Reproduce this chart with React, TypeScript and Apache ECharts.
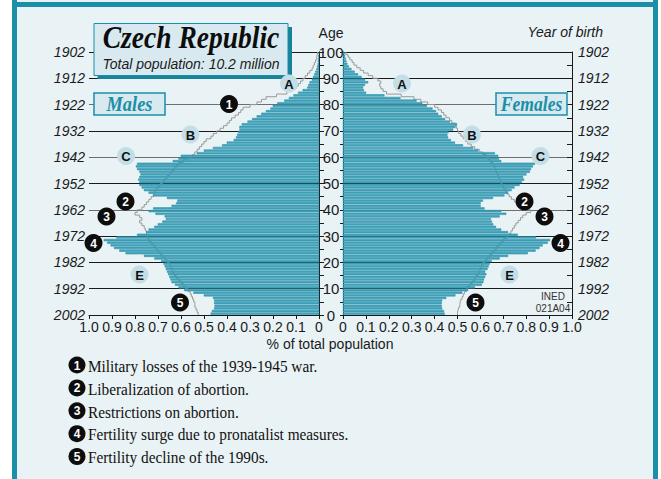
import React, { useEffect, useRef } from "react";
import * as echarts from "echarts";

// ---- data (index = age in completed years, 0..99), % of total population ----
const MALES = [
  0.47, 0.465, 0.455, 0.453, 0.455, 0.455, 0.46, 0.5, 0.545, 0.585,
  0.61, 0.625, 0.64, 0.645, 0.65, 0.655, 0.66, 0.665, 0.67, 0.675,
  0.685, 0.715, 0.76, 0.84, 0.867, 0.89, 0.905, 0.92, 0.935, 0.88,
  0.79, 0.75, 0.74, 0.715, 0.7, 0.68, 0.665, 0.67, 0.71, 0.74,
  0.72, 0.64, 0.62, 0.615, 0.66, 0.72, 0.74, 0.76, 0.77, 0.78,
  0.78, 0.785, 0.78, 0.775, 0.78, 0.79, 0.795, 0.79, 0.635, 0.61,
  0.6, 0.53, 0.5, 0.46, 0.42, 0.4, 0.37, 0.36, 0.355, 0.35,
  0.345, 0.345, 0.335, 0.31, 0.29, 0.27, 0.25, 0.23, 0.21, 0.2,
  0.18, 0.15, 0.13, 0.11, 0.09, 0.07, 0.05, 0.045, 0.04, 0.03,
  0.025, 0.02, 0.015, 0.01, 0.008, 0.005, 0.004, 0.003, 0.002, 0.001,
];
const FEMALES = [
  0.443, 0.44, 0.432, 0.43, 0.43, 0.432, 0.45, 0.49, 0.52, 0.545,
  0.575, 0.605, 0.612, 0.615, 0.62, 0.625, 0.62, 0.63, 0.635, 0.64,
  0.648, 0.683, 0.72, 0.806, 0.84, 0.857, 0.871, 0.893, 0.903, 0.842,
  0.762, 0.72, 0.69, 0.667, 0.655, 0.649, 0.645, 0.683, 0.712, 0.69,
  0.617, 0.6, 0.6, 0.61, 0.654, 0.704, 0.72, 0.735, 0.748, 0.77,
  0.78, 0.79, 0.785, 0.8, 0.815, 0.82, 0.828, 0.837, 0.69, 0.68,
  0.677, 0.662, 0.59, 0.567, 0.523, 0.488, 0.47, 0.458, 0.455, 0.46,
  0.48, 0.49, 0.497, 0.466, 0.445, 0.43, 0.415, 0.405, 0.39, 0.365,
  0.345, 0.32, 0.25, 0.18, 0.1, 0.09, 0.087, 0.095, 0.109, 0.095,
  0.08, 0.065, 0.05, 0.036, 0.025, 0.018, 0.014, 0.011, 0.008, 0.006,
];
// grey outline (reference profile)
const MALES_REF = [
  0.525, 0.53, 0.535, 0.54, 0.54, 0.545, 0.55, 0.555, 0.56, 0.57,
  0.58, 0.59, 0.6, 0.61, 0.62, 0.63, 0.635, 0.64, 0.645, 0.65,
  0.66, 0.67, 0.68, 0.69, 0.7, 0.71, 0.72, 0.73, 0.74, 0.745,
  0.75, 0.75, 0.755, 0.76, 0.77, 0.78, 0.77, 0.78, 0.8, 0.79,
  0.77, 0.76, 0.75, 0.74, 0.73, 0.72, 0.715, 0.71, 0.7, 0.69,
  0.68, 0.67, 0.66, 0.65, 0.64, 0.63, 0.62, 0.61, 0.59, 0.57,
  0.55, 0.54, 0.53, 0.52, 0.51, 0.5, 0.49, 0.47, 0.46, 0.445,
  0.43, 0.415, 0.4, 0.39, 0.38, 0.365, 0.35, 0.34, 0.33, 0.3,
  0.27, 0.25, 0.23, 0.185, 0.14, 0.12, 0.1, 0.09, 0.08, 0.07,
  0.06, 0.05, 0.04, 0.03, 0.025, 0.02, 0.015, 0.01, 0.008, 0.005,
];
const FEMALES_REF = [
  0.5, 0.503, 0.506, 0.51, 0.512, 0.515, 0.52, 0.525, 0.53, 0.54,
  0.545, 0.555, 0.565, 0.575, 0.58, 0.59, 0.595, 0.6, 0.605, 0.61,
  0.62, 0.63, 0.64, 0.65, 0.66, 0.67, 0.68, 0.69, 0.7, 0.715,
  0.725, 0.733, 0.74, 0.748, 0.755, 0.765, 0.775, 0.785, 0.8, 0.82,
  0.79, 0.775, 0.76, 0.748, 0.735, 0.725, 0.715, 0.71, 0.7, 0.695,
  0.69, 0.685, 0.68, 0.675, 0.67, 0.665, 0.66, 0.655, 0.645, 0.635,
  0.625, 0.61, 0.595, 0.575, 0.56, 0.545, 0.535, 0.525, 0.515, 0.505,
  0.5, 0.495, 0.49, 0.475, 0.465, 0.45, 0.44, 0.43, 0.415, 0.4,
  0.37, 0.34, 0.31, 0.254, 0.19, 0.175, 0.165, 0.16, 0.165, 0.152,
  0.13, 0.11, 0.09, 0.075, 0.06, 0.048, 0.04, 0.03, 0.022, 0.012,
];
const AGE_LABELS = ["0", "10", "20", "30", "40", "50", "60", "70", "80", "90", "100"];
const YEAR_LABELS = ["2002", "1992", "1982", "1972", "1962", "1952", "1942", "1932", "1922", "1912", "1902"];
const X_LABELS = ["0", "0.1", "0.2", "0.3", "0.4", "0.5", "0.6", "0.7", "0.8", "0.9", "1.0"];
const LEGEND_NUMS = ["1", "2", "3", "4", "5"];
const LEGEND_TEXTS = [
  "Military losses of the 1939-1945 war.",
  "Liberalization of abortion.",
  "Restrictions on abortion.",
  "Fertility surge due to pronatalist measures.",
  "Fertility decline of the 1990s.",
];

// ---- styles / layout ----
const NARROW = "'Liberation Sans Narrow', 'Liberation Sans', Arial, sans-serif";
const SANS = "'Liberation Sans', Arial, sans-serif";
const SERIF = "'Liberation Serif', 'DejaVu Serif', serif";
const TEAL = "#1b8fa8";
const BG = "#e9f2f5";
const BAR_FILL = "#44a6be";
const BAR_STROKE = "#1e88a2";
const INK = "#1a1a1a";
const LINE_COLORS = [INK, INK, INK, INK, "#6e6e6e", INK, "#6e6e6e", INK, "#6e6e6e", INK, INK];

const MARKERS: [string, boolean, number, number][] = [
  ["A", false, 289, 83.5], ["A", false, 402, 83.5],
  ["1", true, 229, 104],
  ["B", false, 190.5, 134.5], ["B", false, 472, 134.5],
  ["C", false, 126, 156], ["C", false, 540.5, 156],
  ["2", true, 125.5, 201.5], ["2", true, 524.5, 201.5],
  ["3", true, 106.5, 216.5], ["3", true, 544.5, 216.5],
  ["4", true, 93.5, 243], ["4", true, 560.5, 243],
  ["E", false, 139.5, 274.5], ["E", false, 509.5, 274.5],
  ["5", true, 180, 302.5], ["5", true, 475.5, 302.5],
];

function marker(label: string, dark: boolean, x: number, y: number, r = 9) {
  return {
    type: "group", x, y, z: 100,
    children: [
      { type: "circle", shape: { cx: 0, cy: 0, r }, style: { fill: dark ? "#0d0d0d" : "#c4dee7" }, z: 100 },
      {
        type: "text", x: 0, y: 0.5, z: 101,
        style: {
          text: label, fill: dark ? "#ffffff" : "#111111", font: `bold ${dark ? 12 : 13}px ${SANS}`,
          align: "center", verticalAlign: "middle",
        },
      },
    ],
  };
}

function barRenderer(fill: string, stroke: string) {
  return (params: any, api: any) => {
    const age = api.value(0) as number;
    const v = api.value(1) as number;
    const a = api.coord([0, age]);
    const b = api.coord([v, age + 1]);
    const x = Math.min(a[0], b[0]);
    const w = Math.abs(a[0] - b[0]);
    return {
      type: "rect",
      shape: { x, y: b[1] + 0.45, width: w, height: a[1] - b[1] - 0.9 },
      style: { fill, stroke, lineWidth: 0.5 },
    };
  };
}

const xAxisBase = (gridIndex: number, inverse: boolean) => ({
  type: "value", gridIndex, min: 0, max: 1, interval: 0.1, inverse,
  axisLine: { show: true, lineStyle: { color: INK, width: 1 } },
  axisTick: { show: true, inside: false, length: 4, lineStyle: { color: INK } },
  splitLine: { show: false },
  axisLabel: {
    show: true, margin: 5, fontSize: 14, fontFamily: NARROW, color: INK,
    formatter: (v: number) => X_LABELS[Math.round(v * 10)],
  },
});

const yearAxis = (gridIndex: number, position: string) => ({
  type: "value", gridIndex, position, min: 0, max: 100, interval: 10,
  axisLine: { show: true, lineStyle: { color: INK, width: 1 } },
  axisTick: { show: true, inside: true, length: 5, lineStyle: { color: INK } },
  minorTick: { show: true, splitNumber: 2, length: 5, lineStyle: { color: INK } },
  splitLine: { show: true, lineStyle: { color: LINE_COLORS, width: 1 } },
  axisLabel: {
    show: true, margin: position === "left" ? 4 : 6, fontSize: 14, fontFamily: NARROW, fontStyle: "italic",
    color: INK, verticalAlign: "middle", padding: [0, 0, 9, 0],
    formatter: (v: number) => YEAR_LABELS[Math.round(v / 10)],
  },
});

const innerAxis = (gridIndex: number, position: string, labels: boolean) => ({
  type: "value", gridIndex, position, min: 0, max: 100, interval: 5,
  axisLine: { show: true, lineStyle: { color: INK, width: 1 } },
  axisTick: { show: true, inside: false, length: 3, lineStyle: { color: INK } },
  splitLine: { show: false },
  axisLabel: {
    show: labels, margin: 12, align: "center", fontSize: 15, fontFamily: NARROW, color: INK,
    verticalAlign: "middle", padding: [0, 0, 9, 0],
    formatter: (v: number) => (v % 10 === 0 ? AGE_LABELS[v / 10] : ""),
  },
});

export default function App() {
  const ref = useRef<HTMLDivElement>(null);
  useEffect(() => {
    const chart = echarts.init(ref.current!, null, { renderer: "svg" });
    const graphic: any[] = [
      { type: "rect", shape: { x: 0, y: 0, width: 12, height: 479 }, style: { fill: "#ffffff" }, z: 50 },
      { type: "rect", shape: { x: 658, y: 0, width: 3, height: 479 }, style: { fill: "#ffffff" }, z: 50 },
      { type: "rect", shape: { x: 12, y: 0, width: 5, height: 479 }, style: { fill: TEAL }, z: 50 },
      { type: "rect", shape: { x: 653, y: 0, width: 5, height: 479 }, style: { fill: TEAL }, z: 50 },
      { type: "rect", shape: { x: 12, y: 2, width: 646, height: 5 }, style: { fill: TEAL }, z: 50 },
      // title box
      { type: "rect", shape: { x: 97.5, y: 27, width: 194.5, height: 52 }, style: { fill: "#17839b" }, z: 90 },
      { type: "rect", shape: { x: 94, y: 23.5, width: 194, height: 52 }, style: { fill: "#d8eaf0", stroke: TEAL, lineWidth: 1 }, z: 91 },
      {
        type: "text", x: 191, y: 37, scaleX: 0.86, z: 92,
        style: { text: "Czech Republic", font: `italic bold 32px ${SERIF}`, fill: "#0d0d0d", align: "center", verticalAlign: "middle" },
      },
      {
        type: "text", x: 191, y: 63.5, z: 92,
        style: { text: "Total population: 10.2 million", font: `italic 14px ${SANS}`, fill: "#1a1a1a", align: "center", verticalAlign: "middle" },
      },
      // sex boxes
      { type: "rect", shape: { x: 94, y: 93, width: 71, height: 22 }, style: { fill: "#d8eaf0", stroke: TEAL, lineWidth: 1.5 }, z: 91 },
      {
        type: "text", x: 129.5, y: 104.5, scaleX: 0.92, z: 92,
        style: { text: "Males", font: `italic bold 20px ${SERIF}`, fill: TEAL, align: "center", verticalAlign: "middle" },
      },
      { type: "rect", shape: { x: 496, y: 93, width: 71, height: 22 }, style: { fill: "#d8eaf0", stroke: TEAL, lineWidth: 1.5 }, z: 91 },
      {
        type: "text", x: 531.5, y: 104.5, scaleX: 0.88, z: 92,
        style: { text: "Females", font: `italic bold 20px ${SERIF}`, fill: TEAL, align: "center", verticalAlign: "middle" },
      },
      // axis titles
      { type: "text", x: 331, y: 32.5, z: 92, style: { text: "Age", font: `14px ${NARROW}`, fill: INK, align: "center", verticalAlign: "middle" } },
      { type: "text", x: 603, y: 32, z: 92, style: { text: "Year of birth", font: `italic 14px ${NARROW}`, fill: INK, align: "right", verticalAlign: "middle" } },
      { type: "text", x: 330, y: 344, z: 92, style: { text: "% of total population", font: `14px ${NARROW}`, fill: INK, align: "center", verticalAlign: "middle" } },
      { type: "text", x: 553, y: 296.5, z: 92, style: { text: "INED", font: `10px ${NARROW}`, fill: "#333", align: "center", verticalAlign: "middle" } },
      { type: "text", x: 553, y: 308.5, z: 92, style: { text: "021A04", font: `10px ${NARROW}`, fill: "#333", align: "center", verticalAlign: "middle" } },
    ];
    MARKERS.forEach(([label, dark, x, y]) => graphic.push(marker(label, dark, x, y)));
    LEGEND_NUMS.forEach((n, i) => {
      const y = 365 + i * 22.9;
      graphic.push(marker(n, true, 77, y, 8.5));
      graphic.push({
        type: "text", x: 88, y: y + 1, scaleX: 0.9, z: 92,
        style: { text: LEGEND_TEXTS[i], font: `17px ${SERIF}`, fill: "#111", align: "left", verticalAlign: "middle" },
      });
    });

    chart.setOption({
      animation: false,
      backgroundColor: BG,
      grid: [
        { left: 89, top: 52, width: 230, height: 263, containLabel: false, outerBoundsMode: "none" },
        { left: 343, top: 52, width: 229, height: 263, containLabel: false, outerBoundsMode: "none" },
      ],
      xAxis: [xAxisBase(0, true), xAxisBase(1, false)],
      yAxis: [
        yearAxis(0, "left"),
        innerAxis(0, "right", true),
        innerAxis(1, "left", false),
        yearAxis(1, "right"),
      ],
      series: [
        {
          type: "line", name: "Males reference", xAxisIndex: 0, yAxisIndex: 0, z: 2,
          data: MALES_REF.flatMap((v, age) => [[v, age], [v, age + 1]]),
          symbol: "none", lineStyle: { color: "#9a9a9a", width: 1 }, silent: true,
        },
        {
          type: "custom", name: "Males", xAxisIndex: 0, yAxisIndex: 0, z: 3,
          data: MALES.map((v, age) => [age, v]), encode: { x: 1, y: 0 },
          renderItem: barRenderer(BAR_FILL, BAR_STROKE), silent: true,
        },
        {
          type: "line", name: "Females reference", xAxisIndex: 1, yAxisIndex: 3, z: 2,
          data: FEMALES_REF.flatMap((v, age) => [[v, age], [v, age + 1]]),
          symbol: "none", lineStyle: { color: "#9a9a9a", width: 1 }, silent: true,
        },
        {
          type: "custom", name: "Females", xAxisIndex: 1, yAxisIndex: 3, z: 3,
          data: FEMALES.map((v, age) => [age, v]), encode: { x: 1, y: 0 },
          renderItem: barRenderer(BAR_FILL, BAR_STROKE), silent: true,
        },
      ],
      graphic,
    });
    return () => chart.dispose();
  }, []);
  return <div ref={ref} style={{ position: "absolute", left: 0, top: 0, width: 661, height: 479 }} />;
}
